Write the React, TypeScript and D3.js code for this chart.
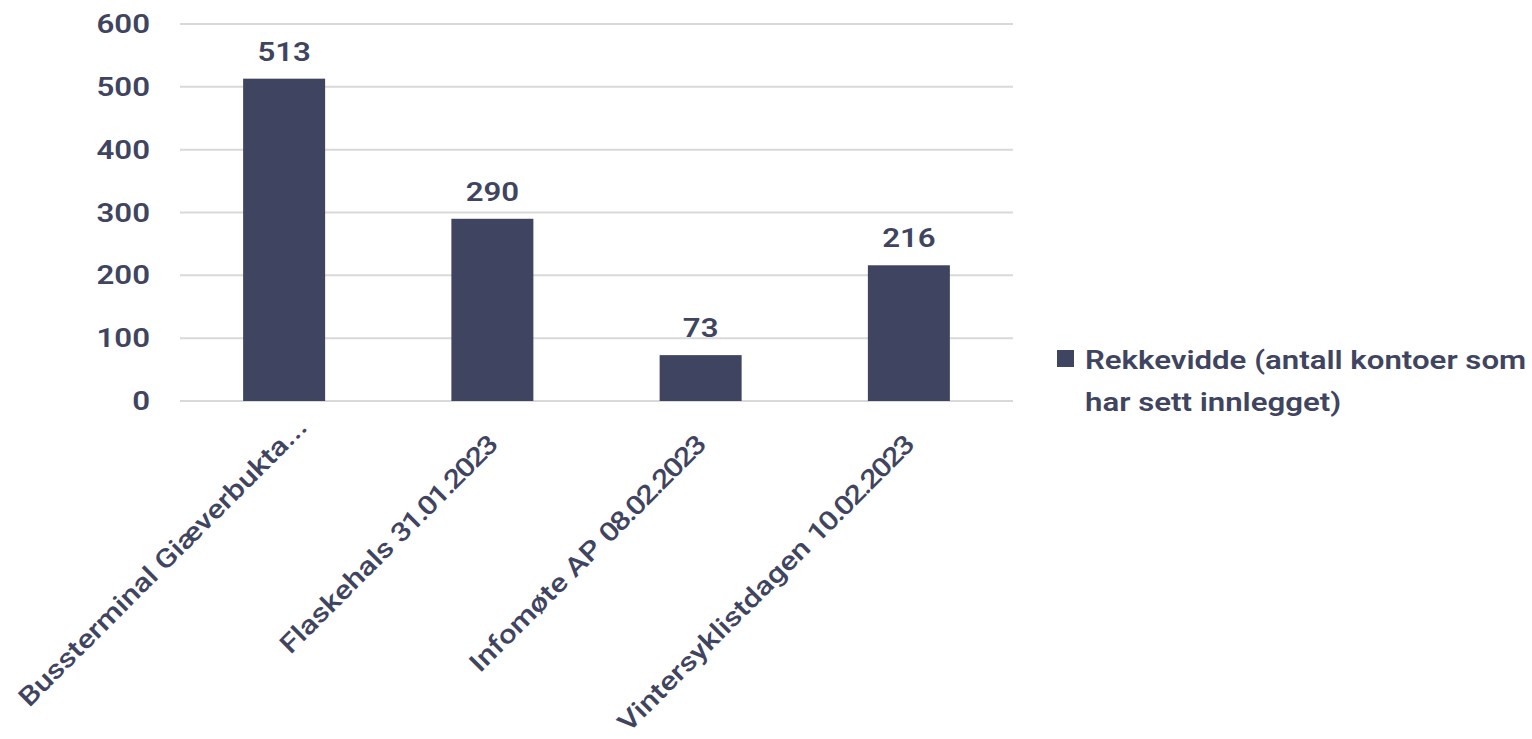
import React from "react";
import * as d3 from "d3";

const categories = [
  "Bussterminal Giæverbukta...",
  "Flaskehals 31.01.2023",
  "Infomøte AP 08.02.2023",
  "Vintersyklistdagen 10.02.2023",
];
const values = [513, 290, 73, 216];
const yTicks = [0, 100, 200, 300, 400, 500, 600];
const seriesName = ["Rekkevidde (antall kontoer som", "har sett innlegget)"];

const W = 1532;
const H = 739;
const COLOR = "#3f4460";
const FONT = "Roboto, 'Noto Sans', sans-serif";
const SX = 1.2;

function splitLabel(c: string): [string, string] {
  const m = c.match(/^(.*?)(\d[\d.]*)$/);
  return m ? [m[1], m[2]] : [c, ""];
}

export default function App() {
  const left = 180, right = 1013, top = 24, bottom = 401;
  const x = d3.scaleBand<string>().domain(categories).range([left, right]).paddingInner(0.6).paddingOuter(0.3);
  const y = d3.scaleLinear().domain([0, 600]).range([bottom, top]);
  const step = (right - left) / categories.length;
  return (
    <svg width={W} height={H} style={{ position: "absolute", left: 0, top: 0, background: "#fff" }}>
      {yTicks.map((t) => (
        <g key={t}>
          <line x1={left} x2={right} y1={y(t)} y2={y(t)} stroke="#d9d9d9" strokeWidth={2} />
          <text transform={`translate(150,${y(t) + 9}) scale(${SX},1)`} textAnchor="end" fontFamily={FONT} fontWeight={600} fontSize={26} fill={COLOR}>{t}</text>
        </g>
      ))}
      {categories.map((c, i) => {
        const cx = left + step * (i + 0.5);
        const bw = 82;
        const truncated = c.endsWith("...");
        const along = truncated ? 26 : 0;
        const bx = cx + 6 + along * Math.SQRT1_2;
        const by = bottom + 46 - along * Math.SQRT1_2;
        const [head, num] = splitLabel(c);
        return (
          <g key={c}>
            <rect x={cx - bw / 2} y={y(values[i])} width={bw} height={y(0) - y(values[i])} fill={COLOR} />
            <text transform={`translate(${cx},${y(values[i]) - 18}) scale(${SX},1)`} textAnchor="middle" fontFamily={FONT} fontWeight={600} fontSize={26} fill={COLOR}>{values[i]}</text>
            <text transform={`translate(${bx},${by}) rotate(-45) scale(${SX},1)`} textAnchor="end" fontFamily={FONT} fontWeight={500} fontSize={26} fill={COLOR}>
              <tspan>{head}</tspan>
              {num ? <tspan letterSpacing={-1.8}>{num}</tspan> : null}
            </text>
          </g>
        );
      })}
      <rect x={1057} y={350} width={17} height={17} fill={COLOR} />
      <g transform={`translate(1085,0) scale(${SX},1)`}>
        <text fontFamily={FONT} fontWeight={600} fontSize={26} fill={COLOR}>
          <tspan x={0} y={369}>{seriesName[0]}</tspan>
          <tspan x={0} y={411}>{seriesName[1]}</tspan>
        </text>
      </g>
    </svg>
  );
}
